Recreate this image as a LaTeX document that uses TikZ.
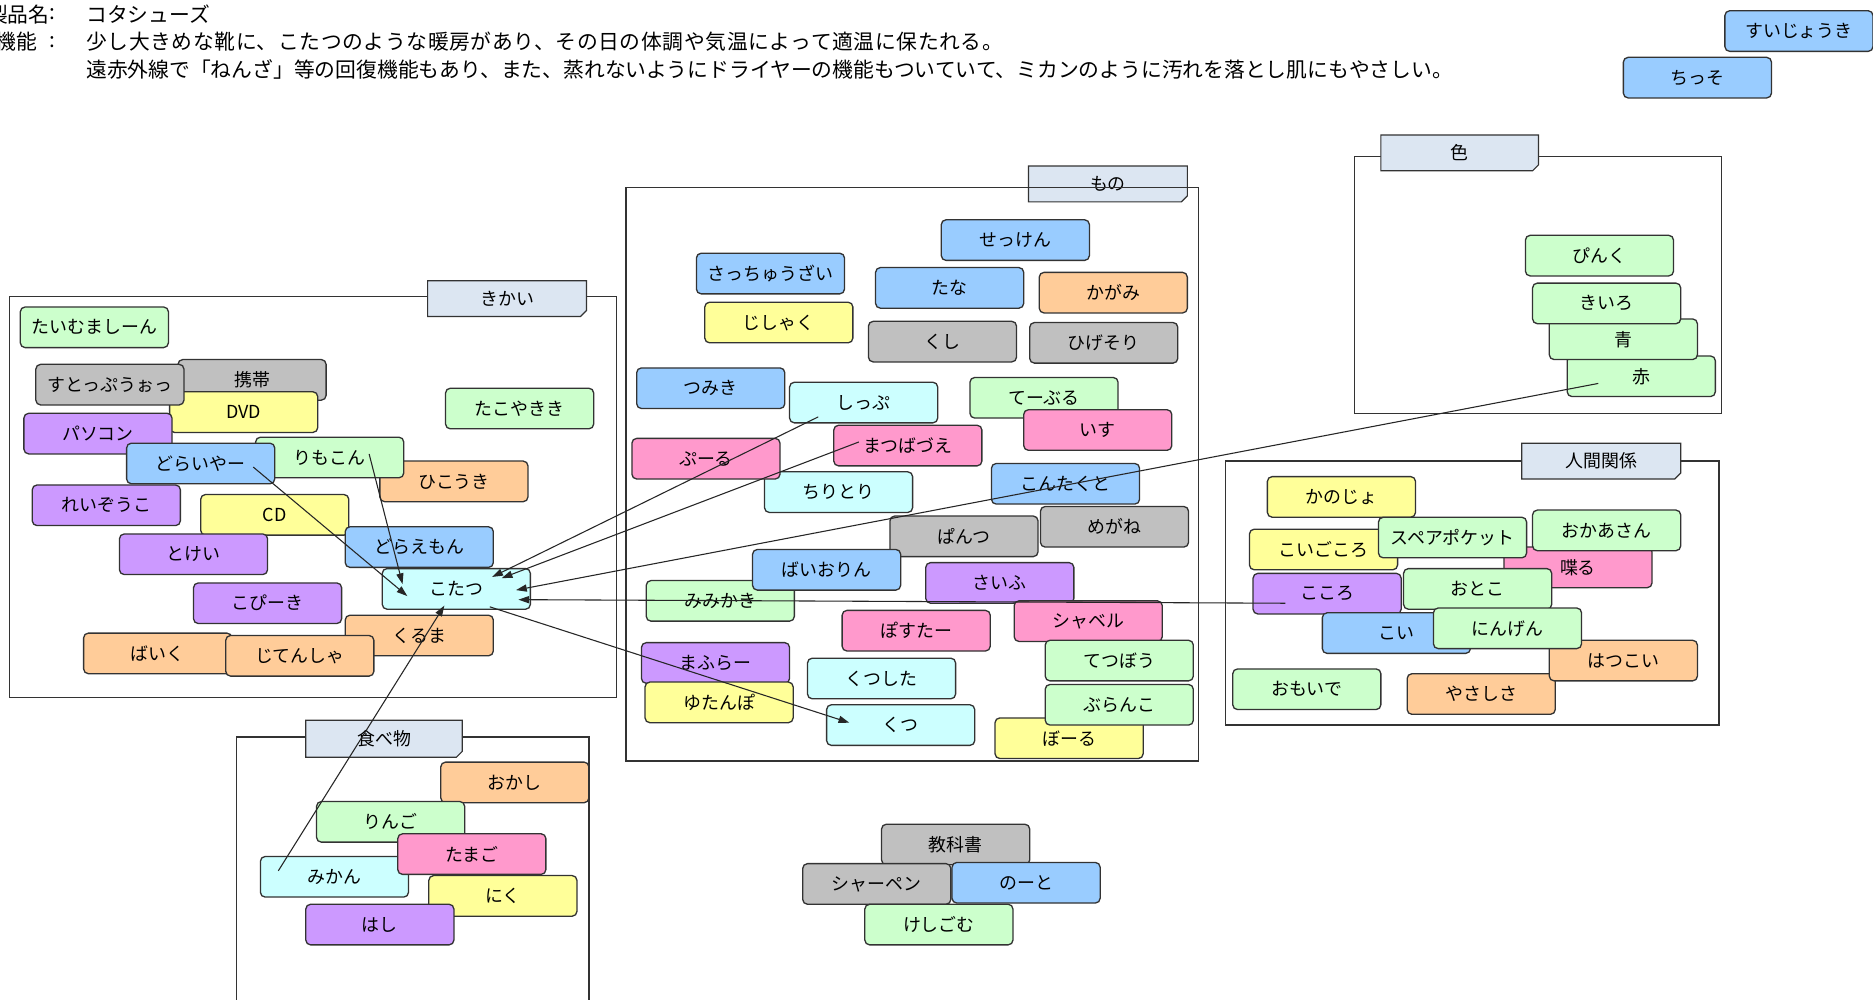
\documentclass[tikz,border=0pt]{standalone}
\usepackage{fontspec}
\setmainfont{Noto Sans CJK JP}
\usetikzlibrary{arrows.meta,calc}
\definecolor{cblue}{HTML}{99CCFF}
\definecolor{cgreen}{HTML}{CCFFCC}
\definecolor{cgray}{HTML}{C0C0C0}
\definecolor{cyellow}{HTML}{FFFF99}
\definecolor{cpurple}{HTML}{CC99FF}
\definecolor{corange}{HTML}{FFCC99}
\definecolor{ccyan}{HTML}{CCFFFF}
\definecolor{cpink}{HTML}{FF99CC}
\definecolor{tabc}{HTML}{DCE6F2}
\definecolor{edge}{HTML}{333333}
\newcommand\tabbox[6]{%
  \draw[tab] (#2,#3) -- (#4,#3) -- (#4,#5-5) -- (#4-5,#5) -- (#2,#5) -- cycle;
  \node[tablabel] (#1) at ({(#2+#4)/2},{(#3+#5)/2}) {#6};}
\begin{document}
\begin{tikzpicture}[x=1pt,y=-1pt,
  box/.style={draw=edge, line width=1.1pt, rounded corners=4pt, minimum width=124pt,
    minimum height=34pt, inner sep=0pt, font=\fontsize{15}{17}\selectfont},
  frame/.style={draw=edge, line width=1pt},
  tab/.style={draw=edge, line width=1pt, fill=tabc},
  tablabel/.style={inner sep=0pt, font=\fontsize{15}{17}\selectfont},
  link/.style={draw=black!85, line width=0.9pt, -{Triangle[length=9pt,width=6pt]}},
  hdr/.style={anchor=west, inner sep=0pt, font=\fontsize{17.4}{19}\selectfont}]
\clip (0,0) rectangle (1568,837);
\fill[white] (0,0) rectangle (1568,837);

% header
\node[hdr] (lbl1) at (-11,12) {製品名};
\node[hdr] (col1) at (41,12) {:};
\node[hdr] (pname) at (72,12) {コタシューズ};
\node[hdr] (lbl2) at (-4,35) {機能};
\node[hdr] (col2) at (41,35) {:};
\node[hdr] (f1) at (72,35) {\addfontfeatures{LetterSpace=3}少し大きめな靴に、こたつのような暖房があり、その日の体調や気温によって適温に保たれる。};
\node[hdr] (f2) at (72,58) {遠赤外線で「ねんざ」等の回復機能もあり、また、蒸れないようにドライヤーの機能もついていて、ミカンのように汚れを落とし肌にもやさしい。};

% top right
\node[box, fill=cblue] (suijo) at (1506,26) {すいじょうき};
\node[box, fill=cblue] (chisso) at (1421,65) {ちっそ};

% きかい
\draw[frame] (8,248) rectangle (516,584);
\tabbox{tkikai}{358}{235}{491}{265}{きかい}
\node[box, fill=cgreen] (tai) at (79,274) {たいむましーん};
\node[box, fill=cgray] (keitai) at (211,318) {携帯};
\node[box, fill=cyellow] (dvd) at (204,345) {DVD};
\node[box, fill=cgray] (stop) at (92,322) {すとっぷうぉっ};
\node[box, fill=cgreen] (tako) at (435,342) {たこやきき};
\node[box, fill=cpurple] (pc) at (82,363) {パソコン};
\node[box, fill=corange] (hikou) at (380,403) {ひこうき};
\node[box, fill=cgreen] (rimo) at (276,383) {りもこん};
\node[box, fill=cblue] (dry) at (168,388) {どらいやー};
\node[box, fill=cpurple] (rei) at (89,423) {れいぞうこ};
\node[box, fill=cyellow] (cd) at (230,431) {CD};
\node[box, fill=cblue] (dora) at (351,458) {どらえもん};
\node[box, fill=cpurple] (tokei) at (162,464) {とけい};
\node[box, fill=ccyan] (kotatsu) at (382,493) {こたつ};
\node[box, fill=cpurple] (copy) at (224,505) {こぴーき};
\node[box, fill=corange] (kuruma) at (351,532) {くるま};
\node[box, fill=corange] (bike) at (132,547) {ばいく};
\node[box, fill=corange] (jiten) at (251,549) {じてんしゃ};

% もの
\tabbox{tmono}{861}{139}{994}{169}{もの}
\draw[frame] (524,157) rectangle (1003,637);
\node[box, fill=cblue] (sekken) at (850,201) {せっけん};
\node[box, fill=cblue] (sacchu) at (645,229) {さっちゅうざい};
\node[box, fill=cblue] (tana) at (795,241) {たな};
\node[box, fill=corange] (kagami) at (932,245) {かがみ};
\node[box, fill=cyellow] (jishaku) at (652,270) {じしゃく};
\node[box, fill=cgray] (kushi) at (789,286) {くし};
\node[box, fill=cgray] (hige) at (924,287) {ひげそり};
\node[box, fill=cblue] (tsumiki) at (595,325) {つみき};
\node[box, fill=ccyan] (shippu) at (723,337) {しっぷ};
\node[box, fill=cgreen] (table) at (874,333) {てーぶる};
\node[box, fill=cpink] (isu) at (919,360) {いす};
\node[box, fill=ccyan] (chiri) at (702,412) {ちりとり};
\node[box, fill=cpink] (pool) at (591,384) {ぷーる};
\node[box, fill=cpink] (matsuba) at (760,373) {まつばづえ};
\node[box, fill=cblue] (konta) at (892,405) {こんたくと};
\node[box, fill=cgray] (megane) at (933,441) {めがね};
\node[box, fill=cgray] (pantsu) at (807,449) {ぱんつ};
\node[box, fill=cgreen] (mimi) at (603,503) {みみかき};
\node[box, fill=cblue] (baio) at (692,477) {ばいおりん};
\node[box, fill=cpurple] (saifu) at (837,488) {さいふ};
\node[box, fill=cpink] (shaberu) at (911,520) {シャベル};
\node[box, fill=cgreen] (tetsu) at (937,553) {てつぼう};
\node[box, fill=cpink] (posuta) at (767,528) {ぽすたー};
\node[box, fill=cpurple] (mafura) at (599,555) {まふらー};
\node[box, fill=cyellow] (yutan) at (602,588) {ゆたんぽ};
\node[box, fill=ccyan] (kutsushita) at (738,568) {くつした};
\node[box, fill=cyellow] (ball) at (895,618) {ぼーる};
\node[box, fill=cgreen] (buranko) at (937,590) {ぶらんこ};
\node[box, fill=ccyan] (kutsu) at (754,607) {くつ};

% 色
\draw[frame] (1134,131) rectangle (1441,346);
\tabbox{tiro}{1156}{113}{1288}{143}{色}
\node[box, fill=cgreen] (pink) at (1339,214) {ぴんく};
\node[box, fill=cgreen] (aka) at (1374,315) {赤};
\node[box, fill=cgreen] (ao) at (1359,284) {青};
\node[box, fill=cgreen] (kiiro) at (1345,254) {きいろ};

% 人間関係
\draw[frame] (1026,386) rectangle (1439,607);
\tabbox{tningen}{1274}{371}{1407}{401}{人間関係}
\node[box, fill=cyellow] (kanojo) at (1123,416) {かのじょ};
\node[box, fill=cyellow] (koigo) at (1108,460) {こいごころ};
\node[box, fill=cpink] (shaberu2) at (1321,475) {喋る};
\node[box, fill=cgreen] (supea) at (1216,450) {スペアポケット};
\node[box, fill=cgreen] (okaa) at (1345,444) {おかあさん};
\node[box, fill=cpurple] (kokoro) at (1111,497) {こころ};
\node[box, fill=cgreen] (otoko) at (1237,493) {おとこ};
\node[box, fill=cblue] (koi) at (1169,530) {こい};
\node[box, fill=corange] (yasa) at (1240,581) {やさしさ};
\node[box, fill=corange] (hatsu) at (1359,553) {はつこい};
\node[box, fill=cgreen] (ningen) at (1262,526) {にんげん};
\node[box, fill=cgreen] (omoide) at (1094,577) {おもいで};

% 食べ物
\draw[frame] (198,860) -- (198,617) -- (493,617) -- (493,860);
\tabbox{ttabe}{256}{603}{387}{634}{食べ物}
\node[box, fill=corange] (okashi) at (431,655) {おかし};
\node[box, fill=cgreen] (ringo) at (327,688) {りんご};
\node[box, fill=ccyan] (mikan) at (280,734) {みかん};
\node[box, fill=cyellow] (niku) at (421,750) {にく};
\node[box, fill=cpink] (tamago) at (395,715) {たまご};
\node[box, fill=cpurple] (hashi) at (318,774) {はし};

% bottom group
\node[box, fill=cgray] (kyoka) at (800,707) {教科書};
\node[box, fill=cgray] (sharpen) at (734,740) {シャーペン};
\node[box, fill=cblue] (note) at (859,739) {のーと};
\node[box, fill=cgreen] (keshi) at (786,774) {けしごむ};

% links
\draw[link] ($(dry)+(44,3)$) -- ($(kotatsu)+(-41,6)$);
\draw[link] ($(rimo)+(33,-3)$) -- ($(kotatsu)+(-45,-4)$);
\draw[link] ($(shippu)+(-38,12)$) -- ($(kotatsu)+(30,-10)$);
\draw[link] ($(matsuba)+(-41,-3)$) -- ($(kotatsu)+(38,-9)$);
\draw[link] ($(aka)+(-36,6)$) -- ($(kotatsu)+(50,1)$);
\draw[link] ($(kokoro)+(-35,8)$) -- ($(kotatsu)+(52,9)$);
\draw[link] ($(kotatsu)+(28,15)$) -- ($(kutsu)+(-43,-2)$);
\draw[link] ($(mikan)+(-47,-5)$) -- ($(kotatsu)+(-10,14)$);
\end{tikzpicture}
\end{document}
